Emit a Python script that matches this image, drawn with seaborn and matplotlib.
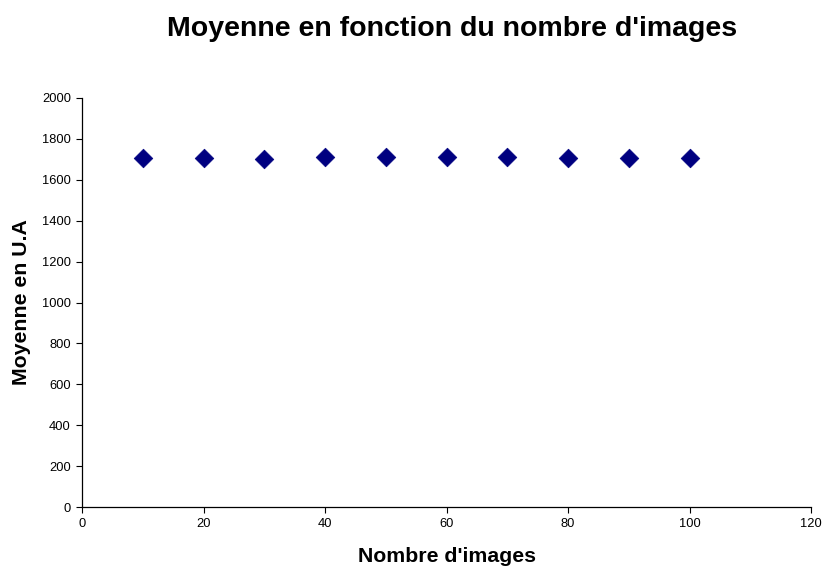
import matplotlib
matplotlib.use("Agg")
import matplotlib.pyplot as plt
import seaborn as sns
import pandas as pd

# Number of images averaged and resulting mean intensity
nb_images = [10, 20, 30, 40, 50, 60, 70, 80, 90, 100]
moyenne = [1707, 1707, 1704, 1712, 1710, 1712, 1712, 1709, 1709, 1707]

df = pd.DataFrame({"Nombre d'images": nb_images, "Moyenne": moyenne})

sns.set_style("white")
plt.rcParams["font.family"] = ["Liberation Sans", "DejaVu Sans"]
plt.rcParams["text.color"] = "black"
plt.rcParams["axes.labelcolor"] = "black"
plt.rcParams["xtick.color"] = "black"
plt.rcParams["ytick.color"] = "black"

fig = plt.figure(figsize=(8.23, 5.69), dpi=100)
ax = fig.add_axes([82 / 823, 62 / 569, 729 / 823, 409 / 569])

sns.scatterplot(data=df, x="Nombre d'images", y="Moyenne", ax=ax,
                marker="D", s=90, color="#000080", edgecolor="#000080",
                linewidth=0.5, zorder=3)

ax.set_xlim(0, 120)
ax.set_ylim(0, 2000)
ax.set_xticks(range(0, 121, 20))
ax.set_yticks(range(0, 2001, 200))
ax.tick_params(axis="both", labelsize=9.3, direction="out", length=4,
               width=0.8, color="black", labelcolor="black", pad=4,
               left=True, bottom=True)

for side in ("top", "right"):
    ax.spines[side].set_visible(False)
for side in ("left", "bottom"):
    ax.spines[side].set_color("black")
    ax.spines[side].set_linewidth(0.9)

ax.set_xlabel("Nombre d'images", fontsize=15.3, fontweight="bold",
              labelpad=12.5, color="black")
ax.set_ylabel("Moyenne en U.A", fontsize=15.3, fontweight="bold",
              labelpad=7.5, color="black")
fig.suptitle("Moyenne en fonction du nombre d'images", fontsize=20.5,
             fontweight="bold", x=452 / 823, y=1 - 29 / 569, va="center",
             color="black")

fig.savefig("out.png", dpi=100)
